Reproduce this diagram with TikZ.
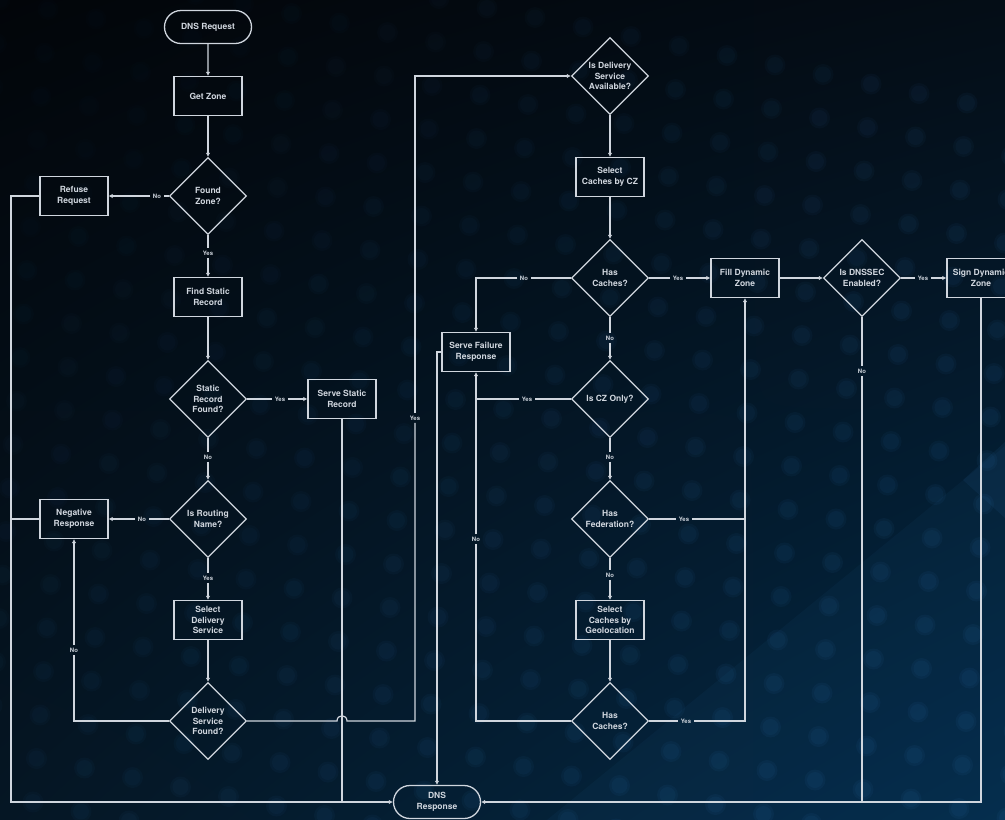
\documentclass[tikz,border=0pt]{standalone}
\usepackage{fontspec}
\setmainfont{TeX Gyre Heros}
\usetikzlibrary{shapes.geometric,shapes.misc,arrows.meta,shadings}

\definecolor{ink}{RGB}{208,214,222}
\definecolor{bgTL}{RGB}{2,5,9}
\definecolor{bgTR}{RGB}{4,13,22}
\definecolor{bgBL}{RGB}{5,22,36}
\definecolor{bgBR}{RGB}{3,42,72}
\definecolor{dotc}{RGB}{50,120,185}

\tikzset{
  every node/.style={text=ink, font=\fontsize{8.5}{10.5}\selectfont\bfseries},
  proc/.style={draw=ink, line width=1.3pt, rectangle, minimum width=68pt,
    minimum height=39pt, align=center, inner sep=1pt},
  dec/.style={draw=ink, line width=1.3pt, diamond, aspect=1, minimum width=77pt,
    minimum height=77pt, inner sep=0pt, align=center},
  term/.style={draw=ink, line width=1.3pt, rounded rectangle, minimum width=89pt,
    minimum height=33pt, align=center, inner sep=1pt},
  lab/.style={font=\fontsize{6}{7}\selectfont\bfseries, inner sep=2.5pt},
  wire/.style={draw=ink, line width=1.2pt},
  arr/.style={wire, -{Latex[length=4pt,width=4.5pt]}},
}

\begin{document}
\begin{tikzpicture}[x=1pt,y=-1pt]
% backdrop: diagonal gradient, a faint lighter wedge and soft dots
\clip (0,0) rectangle (1005,820);
\shade[upper left=bgTL, upper right=bgTR, lower left=bgBL, lower right=bgBR]
  (0,0) rectangle (1005,820);
\fill[dotc, opacity=0.06] (1005,446) -- (547,820) -- (1005,820) -- cycle;
\fill[dotc, opacity=0.09] (963,480) -- (1005,442) -- (1005,518) -- cycle;
\foreach \i in {-3,...,22}{
  \foreach \j in {-2,...,20}{
    \pgfmathsetmacro{\dx}{48*\i-3.5*\j}
    \pgfmathsetmacro{\dy}{9.5*\i+43.5*\j}
    \pgfmathsetmacro{\op}{max(0.01,min(0.07,0.005+0.06*(\dx+\dy)/1400))}
    \fill[dotc, opacity=\op] (\dx,\dy) circle (10.5);
    \fill[dotc, opacity=\op] (\dx,\dy) circle (8);
  }
}

% left column
\node[term] (req)  at (208,27)  {DNS Request};
\node[proc] (gz)   at (208,96)  {Get Zone};
\node[dec]  (fz)   at (208,196) {Found\\Zone?};
\node[proc] (rr)   at (74,196)  {Refuse\\Request};
\node[proc] (fsr)  at (208,297) {Find Static\\Record};
\node[dec]  (srf)  at (208,399) {Static\\Record\\Found?};
\node[proc] (ss)   at (342,399) {Serve Static\\Record};
\node[dec]  (rn)   at (208,519) {Is Routing\\Name?};
\node[proc] (nr)   at (74,519)  {Negative\\Response};
\node[proc] (sds)  at (208,620) {Select\\Delivery\\Service};
\node[dec]  (dsf)  at (208,721) {Delivery\\Service\\Found?};
\node[term] (dnsr) at (437,802) {DNS\\Response};

% right column
\node[dec, inner xsep=-4pt] (dsa) at (610,76) {Is Delivery\\Service\\Available?};
\node[proc] (scz)  at (610,177) {Select\\Caches by CZ};
\node[dec]  (hc1)  at (610,278) {Has\\Caches?};
\node[proc] (fdz)  at (745,278) {Fill Dynamic\\Zone};
\node[dec]  (dns)  at (862,278) {Is DNSSEC\\Enabled?};
\node[proc] (sdz)  at (981,278) {Sign Dynamic\\Zone};
\node[proc] (sfr)  at (476,352) {Serve Failure\\Response};
\node[dec]  (cz)   at (610,399) {Is CZ Only?};
\node[dec]  (hf)   at (610,519) {Has\\Federation?};
\node[proc] (sg)   at (610,620) {Select\\Caches by\\Geolocation};
\node[dec]  (hc2)  at (610,721) {Has\\Caches?};

% branch labels
\node[lab] (n1)  at (157,196) {No};
\node[lab] (y1)  at (208,253) {Yes};
\node[lab] (y2)  at (280,399) {Yes};
\node[lab] (n2)  at (208,457) {No};
\node[lab] (n3)  at (142,519) {No};
\node[lab] (y3)  at (208,578) {Yes};
\node[lab] (n4)  at (74,650)  {No};
\node[lab] (y4)  at (415,418) {Yes};
\node[lab] (n5)  at (524,278) {No};
\node[lab] (y5)  at (678,278) {Yes};
\node[lab] (y6)  at (923,278) {Yes};
\node[lab] (n6)  at (862,371) {No};
\node[lab] (n7)  at (610,338) {No};
\node[lab] (y7)  at (527,399) {Yes};
\node[lab] (n8)  at (610,457) {No};
\node[lab] (y8)  at (684,519) {Yes};
\node[lab] (n9)  at (610,575) {No};
\node[lab] (y9)  at (686,721) {Yes};
\node[lab] (n10) at (476,539) {No};

% routing points
\coordinate (railL) at (11,0);
\coordinate (railY) at (415,0);
\coordinate (hopA) at (337,721);
\coordinate (hopB) at (347,721);

% left column flow
\draw[arr] (req) -- (gz);
\draw[arr] (gz) -- (fz);
\draw[wire] (fz.west) -- (n1);
\draw[arr] (n1) -- (rr);
\draw[wire] (fz.south) -- (y1);
\draw[arr] (y1) -- (fsr);
\draw[arr] (fsr) -- (srf);
\draw[wire] (srf.east) -- (y2);
\draw[arr] (y2) -- (ss);
\draw[wire] (srf.south) -- (n2);
\draw[arr] (n2) -- (rn);
\draw[wire] (rn.west) -- (n3);
\draw[arr] (n3) -- (nr);
\draw[wire] (rn.south) -- (y3);
\draw[arr] (y3) -- (sds);
\draw[arr] (sds) -- (dsf);
\draw[wire] (dsf.west) -| (n4);
\draw[arr] (n4) -- (nr.south);
\draw[wire] (dsf.east) -- (hopA) .. controls +(0,-7) and +(0,-7) .. (hopB)
  -- (hopB -| railY) -- (y4);
\draw[arr] (y4) -- (y4 |- dsa.west) -- (dsa.west);

% paths into the response
\draw[arr] (rr.west) -- (rr.west -| railL) |- (dnsr.west);
\draw[wire] (nr.west) -- (nr.west -| railL);
\draw[wire] (ss.south) -- (ss.south |- dnsr.west);

% right column flow
\draw[arr] (dsa) -- (scz);
\draw[arr] (scz) -- (hc1);
\draw[wire] (hc1.west) -- (n5);
\draw[arr] (n5) -| (sfr.north);
\draw[wire] (hc1.east) -- (y5);
\draw[arr] (y5) -- (fdz);
\draw[arr] (fdz) -- (dns);
\draw[wire] (dns.east) -- (y6);
\draw[arr] (y6) -- (sdz);
\draw[wire] (dns.south) -- (n6);
\draw[wire] (n6) -- (n6 |- dnsr.east);
\draw[arr] (sdz.south) |- (dnsr.east);
\draw[arr] (sfr.west) -- (sfr.west -| dnsr.north) -- (dnsr.north);
\draw[wire] (hc1.south) -- (n7);
\draw[arr] (n7) -- (cz);
\draw[wire] (cz.west) -- (y7);
\draw[wire] (y7) -- (y7 -| sfr.south);
\draw[wire] (cz.south) -- (n8);
\draw[arr] (n8) -- (hf);
\draw[wire] (hf.east) -- (y8);
\draw[wire] (y8) -- (y8 -| fdz.south);
\draw[wire] (hf.south) -- (n9);
\draw[arr] (n9) -- (sg);
\draw[arr] (sg) -- (hc2);
\draw[wire] (hc2.east) -- (y9);
\draw[arr] (y9) -| (fdz.south);
\draw[wire] (hc2.west) -| (n10);
\draw[arr] (n10) -- (sfr.south);
\end{tikzpicture}
\end{document}
